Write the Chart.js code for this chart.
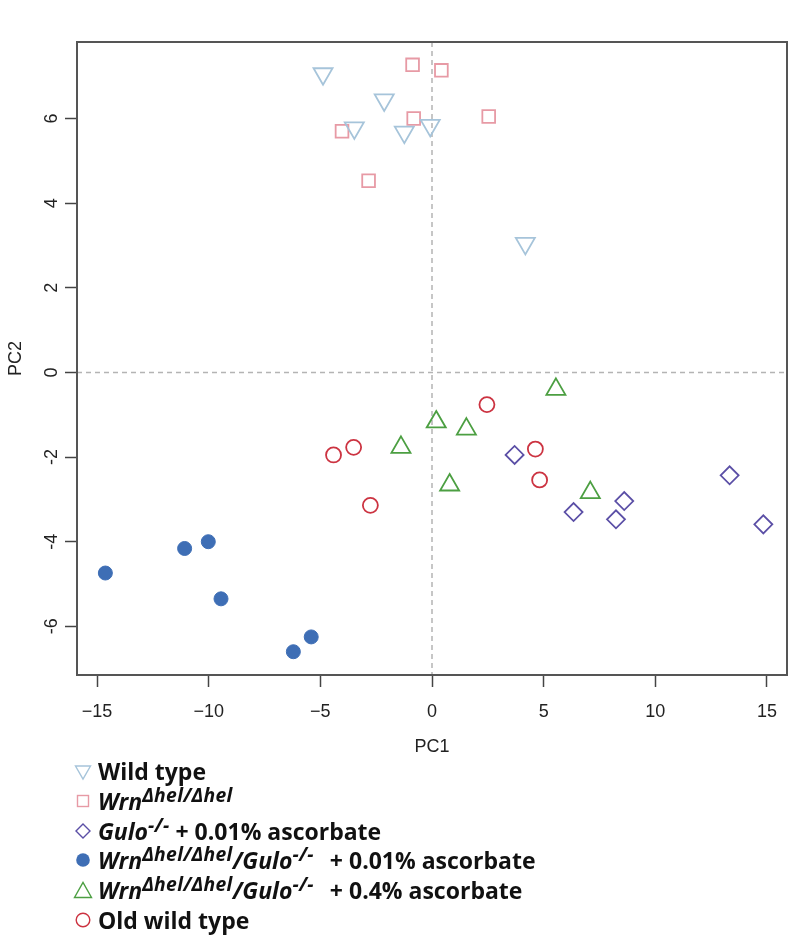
<!DOCTYPE html>
<html>
<head>
<meta charset="utf-8">
<script src="https://cdn.jsdelivr.net/npm/chart.js@4.4.0/dist/chart.umd.min.js"></script>
<style>
  body { margin: 0; background: #fff; }
  #wrap { position: relative; width: 800px; height: 938px; overflow: hidden; }
  #pca { position: absolute; left: 0; top: 0; }
  .row {
    position: absolute; left: 72px; height: 30px;
    display: flex; align-items: center; white-space: nowrap;
    font-family: 'Open Sans', sans-serif; font-weight: 700; font-size: 23px; color: #111;
  }
  .row svg { width: 22px; height: 22px; margin-right: 4px; flex: none; }
  .row i { font-style: italic; }
  .row sup { font-size: 0.84em; line-height: 0; vertical-align: 0.42em; letter-spacing: 0.3px; }
  .gap { display: inline-block; width: 16px; }
</style>
</head>
<body>
<div id="wrap">
  <canvas id="pca" width="800" height="938"></canvas>
  <div id="legend"></div>
</div>
<script>
// ── Data ──
const xTicks = [-15, -10, -5, 0, 5, 10, 15];
const xTickLabels = ["\u221215", "\u221210", "\u22125", "0", "5", "10", "15"];
const yTicks = [-6, -4, -2, 0, 2, 4, 6];
const yTickLabels = ["-6", "-4", "-2", "0", "2", "4", "6"];

const wildX = [-4.88, -2.14, -3.48, -1.24, -0.08, 4.18];
const wildY = [7.06, 6.44, 5.78, 5.68, 5.84, 3.05];
const wrnX = [-0.87, 0.42, -0.82, 2.54, -4.03, -2.84];
const wrnY = [7.27, 7.14, 6.00, 6.05, 5.70, 4.53];
const guloX = [3.70, 13.33, 8.61, 6.34, 8.24, 14.84];
const guloY = [-1.95, -2.43, -3.04, -3.30, -3.47, -3.59];
const wrnGuloLowX = [-14.63, -11.08, -10.02, -9.45, -5.41, -6.21];
const wrnGuloLowY = [-4.74, -4.16, -4.00, -5.35, -6.25, -6.60];
const wrnGuloHighX = [5.55, 0.19, 1.54, -1.39, 0.79, 7.09];
const wrnGuloHighY = [-0.40, -1.17, -1.34, -1.77, -2.66, -2.84];
const oldX = [2.46, -3.51, -4.41, 4.63, 4.82, -2.76];
const oldY = [-0.76, -1.77, -1.95, -1.81, -2.54, -3.14];

const COLORS = {
  wild: "#a6c4da",
  wrn: "#e79aa5",
  gulo: "#5b4fa6",
  low: "#3e6eb5",
  high: "#4c9f42",
  old: "#cc3341",
};

const toPoints = (xs, ys) => xs.map((x, i) => ({ x, y: ys[i] }));

function series(label, xs, ys, color, style, radius, extra = {}) {
  return {
    label,
    data: toPoints(xs, ys),
    pointStyle: style,
    pointRadius: radius,
    pointBorderWidth: 1.8,
    pointBorderColor: color,
    pointBackgroundColor: "rgba(0,0,0,0)",
    showLine: false,
    ...extra,
  };
}

// ── Frame + dashed zero lines (R-style box) ──
const framePlugin = {
  id: "frame",
  beforeDatasetsDraw(chart) {
    const { ctx, chartArea: a, scales: { x, y } } = chart;
    const x0 = x.getPixelForValue(0);
    const y0 = y.getPixelForValue(0);
    ctx.save();
    ctx.strokeStyle = "#b4b4b4";
    ctx.lineWidth = 1.5;
    ctx.setLineDash([5, 4]);
    ctx.beginPath();
    ctx.moveTo(x0, a.top); ctx.lineTo(x0, a.bottom);
    ctx.moveTo(a.left, y0); ctx.lineTo(a.right, y0);
    ctx.stroke();
    ctx.setLineDash([]);
    ctx.strokeStyle = "#555";
    ctx.lineWidth = 2;
    ctx.strokeRect(a.left, a.top, a.right - a.left, a.bottom - a.top);
    ctx.restore();
  },
};

const axisFont = { family: "'Liberation Sans', Arial, sans-serif", size: 18 };

new Chart(document.getElementById("pca"), {
  type: "scatter",
  data: {
    datasets: [
      series("Wild type", wildX, wildY, COLORS.wild, "triangle", 11, { rotation: 180 }),
      series("Wrn", wrnX, wrnY, COLORS.wrn, "rect", 9),
      series("Gulo", guloX, guloY, COLORS.gulo, "rectRot", 9),
      series("Wrn/Gulo 0.01%", wrnGuloLowX, wrnGuloLowY, COLORS.low, "circle", 7,
        { pointBackgroundColor: COLORS.low, pointBorderWidth: 1 }),
      series("Wrn/Gulo 0.4%", wrnGuloHighX, wrnGuloHighY, COLORS.high, "triangle", 11),
      series("Old wild type", oldX, oldY, COLORS.old, "circle", 7.5),
    ],
  },
  options: {
    responsive: false,
    animation: false,
    events: [],
    devicePixelRatio: 1,
    layout: { padding: { top: 42, right: 13, left: 0, bottom: 178 } },
    plugins: { legend: { display: false }, tooltip: { enabled: false } },
    scales: {
      x: {
        type: "linear",
        min: -15.9, max: 15.9,
        afterBuildTicks: s => { s.ticks = xTicks.map(v => ({ value: v })); },
        afterFit: s => { s.height = 85; },
        grid: { drawOnChartArea: false, tickLength: 12, tickColor: "#444", tickWidth: 1.5 },
        border: { display: false },
        ticks: {
          autoSkip: false, maxRotation: 0, padding: 14,
          font: axisFont, color: "#222",
          callback: v => xTickLabels[xTicks.indexOf(v)],
        },
        title: { display: true, text: "PC1", font: axisFont, color: "#222", padding: { top: 0, bottom: 2 } },
      },
      y: {
        type: "linear",
        min: -7.15, max: 7.81,
        afterBuildTicks: s => { s.ticks = yTicks.map(v => ({ value: v })); },
        afterFit: s => { s.width = 77; },
        grid: { drawOnChartArea: false, tickLength: 12, tickColor: "#444", tickWidth: 1.5 },
        border: { display: false },
        ticks: {
          autoSkip: false, minRotation: 90, maxRotation: 90, padding: 5, crossAlign: "center",
          font: axisFont, color: "#222",
          callback: v => yTickLabels[yTicks.indexOf(v)],
        },
        title: { display: true, text: "PC2", font: axisFont, color: "#222", padding: { top: 5, bottom: 0 } },
      },
    },
  },
  plugins: [framePlugin],
});

// ── Legend (HTML, below the plot) ──
const legendRows = [
  { sym: `<polygon points="3.5,6 18.5,6 11,19" fill="none" stroke="${COLORS.wild}" stroke-width="1.4"/>`,
    html: "Wild type" },
  { sym: `<rect x="5.5" y="5.5" width="11" height="11" fill="none" stroke="${COLORS.wrn}" stroke-width="1.4"/>`,
    html: "<i>Wrn<sup>\u0394hel/\u0394hel</sup></i>" },
  { sym: `<polygon points="11,4 18,11 11,18 4,11" fill="none" stroke="${COLORS.gulo}" stroke-width="1.4"/>`,
    html: "<i>Gulo<sup>-/-</sup></i>&nbsp;+ 0.01% ascorbate" },
  { sym: `<circle cx="11" cy="11" r="6.8" fill="${COLORS.low}"/>`,
    html: "<i>Wrn<sup>\u0394hel/\u0394hel</sup>/Gulo<sup>-/-</sup></i><span class=\"gap\"></span>+ 0.01% ascorbate" },
  { sym: `<polygon points="2.5,18.5 19.5,18.5 11,3.5" fill="none" stroke="${COLORS.high}" stroke-width="1.4"/>`,
    html: "<i>Wrn<sup>\u0394hel/\u0394hel</sup>/Gulo<sup>-/-</sup></i><span class=\"gap\"></span>+ 0.4% ascorbate" },
  { sym: `<circle cx="11" cy="11" r="6.8" fill="none" stroke="${COLORS.old}" stroke-width="1.4"/>`,
    html: "Old wild type" },
];

document.getElementById("legend").innerHTML = legendRows.map((r, i) => `
  <div class="row" style="top:${756 + i * 29.8}px">
    <svg viewBox="0 0 22 22">${r.sym}</svg><span>${r.html}</span>
  </div>`).join("");
</script>
</body>
</html>
